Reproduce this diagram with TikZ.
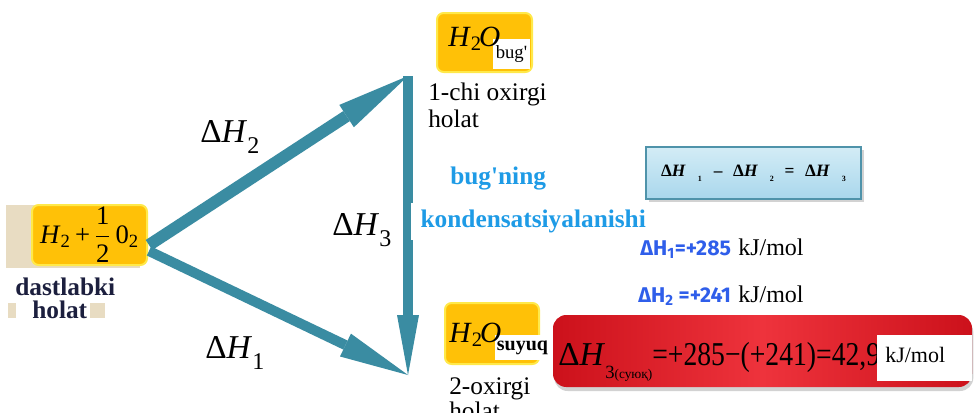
\documentclass[tikz,border=0pt]{standalone}
\usepackage{fontspec}
\usepackage{graphicx}
\setmainfont{Liberation Serif}
\newfontfamily\bluesans{Fira Sans}
\usetikzlibrary{arrows.meta,shadows}
\definecolor{arrowteal}{HTML}{3A8CA2}
\definecolor{beige}{HTML}{E8DCC2}
\definecolor{yfill}{HTML}{FFC107}
\definecolor{yrim}{HTML}{FFE94A}
\definecolor{navy}{HTML}{1C1F3E}
\definecolor{cyantext}{HTML}{1E9BE6}
\definecolor{bluetext}{HTML}{2F5EEA}
\definecolor{redmid}{HTML}{EE333C}
\definecolor{redside}{HTML}{CC111B}
\definecolor{bluebox}{HTML}{A9D7EC}
\definecolor{blueboxlight}{HTML}{D3ECF6}
\definecolor{blueborder}{HTML}{4F93AA}
\newcommand{\dHlab}[1]{Δ\textit{H}\raisebox{-0.33em}{\fontsize{18}{18}\selectfont #1}}
\newcommand{\fsz}[1]{\fontsize{#1}{#1}\selectfont}
\begin{document}
\begin{tikzpicture}[x=0.75pt,y=-0.75pt,
  yellowbox/.style={draw=yrim, line width=1.5pt, fill=yfill, rounded corners=5pt, inner sep=0pt},
  whitebox/.style={fill=white, inner sep=0pt},
  arr/.style={draw=arrowteal, line width=#1},
  labtext/.style={inner sep=0pt, anchor=base west},
  serif19/.style={font=\fsz{19}},
]
\useasboundingbox (0,0) rectangle (974,412);
\fill[white] (0,0) rectangle (974,412);
% beige decorations
\fill[beige] (6,205) rectangle (140,268);
\fill[beige] (8,303) rectangle (16,318);
\fill[beige] (90,303) rectangle (105,318);

% initial state
\node[yellowbox, minimum width={115*0.75pt}, minimum height={60*0.75pt}, font=\fsz{20}] (h2) at (89.5,235)
  {\textit{H}\textsubscript{2}\,+\,$\displaystyle\frac{\mbox{1}}{\mbox{2}}$\,0\textsubscript{2}};
\node[labtext, font=\bfseries\fsz{19}, text=navy] (l1) at (15,295) {dastlabki};
\node[labtext, font=\bfseries\fsz{19}, text=navy] (l2) at (32,318) {holat};

% vapour state
\node[yellowbox, minimum width={95*0.75pt}, minimum height={59*0.75pt}] (vap) at (484.5,42.5) {};
\node[whitebox, minimum width={37*0.75pt}, minimum height={30*0.75pt}, font=\fsz{14}] (vapsub) at (511.5,54) {bug\textquotesingle};
\node[labtext, font=\fsz{22}] (vapf) at (448,46) {\textit{H}\textsubscript{2}\kern-2pt\textit{O}};
\node[labtext, serif19] (o1a) at (428,100) {1-chi oxirgi};
\node[labtext, serif19] (o1b) at (428,127) {holat};

% arrows
\coordinate (s1) at (149,245);
\coordinate (s2) at (149,251);
\coordinate (top) at (408,76);
\coordinate (bot) at (408,375);
\draw[arr=9pt, -{Triangle[length=55pt,width=20pt,line width=0pt]}] (s1) -- (top);
\draw[arr=7.5pt, -{Triangle[length=52pt,width=19pt,line width=0pt]}] (s2) -- (bot);
\draw[arr=7.5pt, -{Triangle[length=45pt,width=16.5pt,line width=0pt]}] (top) -- (bot);

\node[labtext, font=\fsz{25}] (dh2) at (200,142) {\dHlab{2}};
\node[labtext, font=\fsz{25}] (dh3) at (332,235) {\dHlab{3}};
\node[labtext, font=\fsz{25}] (dh1) at (205,358) {\dHlab{1}};

% condensation text
\node[labtext, font=\bfseries\fsz{19}, text=cyantext] (bn) at (450,184) {bug\textquotesingle ning};
\node[fill=white, inner xsep=7pt, inner ysep=0pt, minimum height={37*0.75pt}, anchor=west,
  font=\bfseries\fsz{19}, text=cyantext] (kond) at (411,221.5) {kondensatsiyalanishi};

% equation box
\node[draw=blueborder, line width=1.2pt, top color=blueboxlight, bottom color=bluebox,
  minimum width={215*0.75pt}, minimum height={52*0.75pt}, inner sep=0pt,
  drop shadow={shadow xshift=2pt, shadow yshift=-2pt, opacity=0.35},
  font=\bfseries\fsz{13}] (eq) at (753.5,173)
  {Δ\textit{H}\hspace{9pt}\raisebox{-0.3em}{\fsz{6}1}\hspace{9pt}–\hspace{8pt}Δ\textit{H}\hspace{9pt}\raisebox{-0.3em}{\fsz{6}2}\hspace{8pt}=\hspace{8pt}Δ\textit{H}\hspace{9pt}\raisebox{-0.3em}{\fsz{6}3}};

% values
\node[labtext, font=\bluesans\bfseries\fsz{16}, text=bluetext] (v1) at (640,255) {ΔH\textsubscript{1}=+285};
\node[labtext, font=\fsz{18}] (u1) at (738,255) {kJ/mol};
\node[labtext, font=\bluesans\bfseries\fsz{16}, text=bluetext] (v2) at (638,302) {ΔH\textsubscript{2} =+241};
\node[labtext, font=\fsz{18}] (u2) at (738,302) {kJ/mol};

% liquid state
\node[yellowbox, minimum width={94*0.75pt}, minimum height={61*0.75pt}] (liq) at (492,333.5) {};
\node[whitebox, minimum width={55*0.75pt}, minimum height={25*0.75pt}, font=\bfseries\fsz{15}] (liqsub) at (522.5,347.5) {suyuq};
\node[labtext, font=\fsz{22}] (liqf) at (449,342) {\textit{H}\textsubscript{2}\kern-2pt\textit{O}};
\node[labtext, serif19] (o2a) at (449,394) {2-oxirgi};
\node[labtext, serif19] (o2b) at (449,419) {holat};

% result box
\node[left color=redside, right color=redside, middle color=redmid, rounded corners=10pt,
  minimum width={419*0.75pt}, minimum height={72*0.75pt}, inner sep=0pt,
  drop shadow={shadow xshift=1pt, shadow yshift=-3pt, opacity=0.35}] (res) at (762.5,351) {};
\node[labtext, font=\fsz{25}] (resf) at (558,365)
  {Δ\textit{H}\raisebox{-0.4em}{\fsz{14}3\fsz{10}(суюқ)}\scalebox{0.83}[1]{=+285−(+241)=42,9}};
\node[whitebox, minimum width={95*0.75pt}, minimum height={46*0.75pt}, anchor=north west] (resu) at (877,335) {};
\node[labtext, font=\fsz{16.5}] (resut) at (885,362) {kJ/mol};
\end{tikzpicture}
\end{document}
